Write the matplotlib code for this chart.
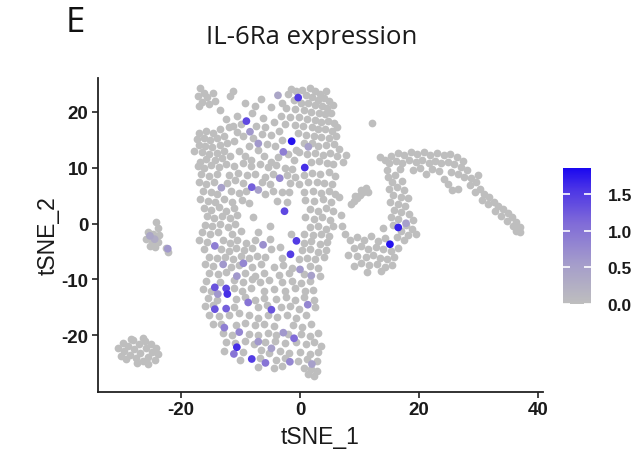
import numpy as np
import matplotlib
matplotlib.use("Agg")
import matplotlib.pyplot as plt
from matplotlib.colors import LinearSegmentedColormap, Normalize

# ---------------- data ----------------
# non-expressing cells (value 0), grouped by region of the tSNE map
main_upper = [
    (-16.8,24.2),(-16.2,23.4),(-17.1,22.8),(-15.6,22.6),(-14.6,23.3),(-16.4,21.8),(-15.2,21.4),(-16.9,21.0),(-14.3,21.9),
    (-11.3,23.6),(-11.8,22.7),(-9.3,21.6),(-6.5,22.3),(-4.8,20.8),(-8.0,19.8),(-10.5,19.3),(-12.5,18.6),(-6.2,18.9),
    (-1.5,24.0),(-0.6,23.7),(0.4,23.9),(1.6,24.2),(2.5,23.6),(3.4,23.1),(4.3,23.6),(1.0,22.9),(2.0,22.6),(3.0,22.1),
    (4.0,22.4),(4.9,21.9),(-1.0,22.1),(0.2,21.6),(1.4,21.5),(2.6,21.1),(3.7,21.0),(4.6,20.6),(5.5,21.2),(-2.3,20.6),
    (-0.9,20.4),(0.6,20.3),(1.9,20.0),(3.2,19.8),(4.2,19.5),(5.2,19.7),(-3.2,19.3),(-1.6,19.0),(-0.2,19.1),(1.2,18.7),
    (2.6,18.5),(3.6,18.1),(4.7,18.4),(5.7,18.0),(-2.5,17.8),(-0.9,17.6),(0.5,17.4),(2.0,17.2),(3.1,16.8),(4.2,16.9),
    (5.3,16.5),(6.2,17.2),(-2.0,23.2),(-7.6,21.0),(-13.4,20.2),(-3.0,21.6),
    (-16.9,16.2),(-15.8,16.6),(-14.6,16.1),(-13.5,16.8),(-17.3,15.1),(-16.2,15.3),(-15.1,14.9),(-13.9,15.2),(-12.8,15.6),
    (-17.0,14.0),(-15.9,13.8),(-14.7,13.6),(-13.5,14.0),(-12.3,14.3),(-16.4,12.8),(-15.2,12.5),(-14.0,12.6),(-12.8,12.9),
    (-15.7,11.6),(-14.3,11.4),(-13.1,11.7),(-11.8,12.0),(-16.8,11.0),(-17.8,13.0),(-12.0,17.2),
    (-11.2,17.4),(-9.9,17.8),(-7.4,17.5),(-5.8,17.3),(-4.4,18.2),(-10.6,16.3),(-9.5,15.6),(-7.9,15.2),(-6.4,16.0),
    (-4.9,15.9),(-3.6,16.5),(-11.0,14.8),(-8.6,13.8),(-7.0,13.1),(-5.6,14.2),(-4.2,13.9),(-3.0,14.9),(-10.2,13.0),
    (-9.3,12.1),(-6.0,12.1),(-3.7,11.9),(-2.0,12.4),(-0.6,13.2),(-8.2,11.4),(-4.8,11.0),
    (-0.3,16.2),(1.0,15.9),(2.4,15.6),(3.6,15.5),(4.8,15.3),(6.0,15.6),(0.6,14.3),(2.0,14.4),(3.1,13.9),(4.4,14.0),
    (5.7,14.2),(6.5,13.4),(-0.1,12.7),(1.2,12.5),(2.6,12.6),(3.9,12.3),(5.1,12.6),(6.2,12.0),(-1.0,11.3),(1.8,11.0),
    (3.2,11.2),(4.5,10.9),(5.6,10.6),(7.2,11.0),(7.7,12.2),(12.1,18.0),
]
main_middle = [
    (-17.2,10.2),(-16.1,9.9),(-14.9,10.4),(-13.6,10.1),(-12.4,10.6),(-11.0,10.3),(-9.6,10.8),(-8.3,10.2),(-6.8,10.6),
    (-5.4,10.1),(-4.1,10.4),(-2.6,10.0),(-1.3,9.7),
    (-16.6,8.8),(-15.3,8.5),(-14.0,8.9),(-12.0,8.7),(-10.4,9.0),(-8.9,8.6),(-7.5,8.9),(-5.9,8.4),(-4.6,8.8),(-2.2,8.6),
    (-0.9,8.3),(0.6,8.7),(2.0,9.0),(3.4,8.8),(4.8,9.2),(5.9,8.5),
    (-17.0,7.4),(-15.8,7.1),(-14.5,7.5),(-12.2,7.3),(-10.9,7.7),(-9.6,7.2),(-6.4,7.4),(-5.1,7.0),(-1.6,7.2),(-0.1,7.0),
    (1.3,7.4),(2.8,7.5),(4.1,7.2),(5.4,7.0),
    (-16.3,5.9),(-15.0,5.6),(-13.9,5.2),(-11.6,5.9),(-10.3,5.5),(-9.0,5.8),(-5.8,5.3),(-4.5,5.9),(-3.0,5.6),(-1.8,5.7),
    (0.7,5.6),(2.1,5.9),(3.5,5.5),(4.8,5.8),(5.9,5.2),(6.5,4.8),
    (-16.8,4.4),(-15.4,4.1),(-14.2,3.9),(-12.8,4.4),(-11.5,3.8),(-9.8,4.2),(-8.6,3.6),(-3.8,4.0),(-2.2,3.9),(0.9,4.2),
    (2.4,4.0),(3.8,4.3),(5.2,3.9),
    (-16.2,2.8),(-14.9,2.5),(-13.6,2.9),(-12.4,2.3),(-11.1,2.7),(-7.9,1.1),(1.6,2.6),(3.0,2.2),(4.4,2.7),(5.6,2.3),
    (-15.6,1.3),(-14.4,1.0),(-13.1,1.4),(-11.8,0.9),(-10.5,1.5),(-5.0,-0.5),(0.9,1.1),(2.3,0.8),(3.7,1.2),(5.0,0.7),(6.8,1.5),
    (-16.0,-0.2),(-14.8,-0.5),(-13.4,-0.1),(-12.1,-0.6),(-10.9,0.0),(1.6,-0.6),(3.0,-0.4),(4.3,-0.9),(5.6,-0.5),
    (-16.5,-1.6),(-15.1,-1.9),(-13.8,-1.5),(-11.4,-1.8),(-9.9,-1.3),(-7.0,-1.6),(-1.5,-1.8),(0.6,-1.9),(2.1,-2.0),
    (3.6,-1.8),(4.9,-2.2),
    (-16.9,-3.0),(-15.6,-3.3),(-13.0,-3.0),(-11.8,-3.5),(-10.5,-2.9),(-9.0,-3.4),(-7.6,-3.0),(-5.1,-2.8),(0.6,-3.4),
    (1.9,-3.2),(3.3,-3.6),(4.6,-3.3),
    (-16.1,-4.6),(-13.3,-4.5),(-12.0,-4.9),(-10.7,-4.4),(-9.4,-4.8),(-8.0,-4.4),(-4.8,-4.6),(-3.3,-4.2),(0.3,-4.8),
    (1.7,-4.6),(3.0,-5.0),(4.3,-4.7),
    (-15.3,-5.9),(-14.0,-6.2),(-12.6,-6.0),(-11.2,-6.3),(-9.9,-5.8),(-8.6,-6.2),(-7.2,-5.8),(-5.8,-6.0),(-3.1,-6.2),
    (-0.2,-6.4),(1.2,-6.1),(2.6,-6.4),(4.0,-6.0),
    (-16.0,-7.3),(-14.6,-7.6),(-11.6,-7.8),(-10.3,-7.4),(-8.0,-7.8),(-6.5,-7.3),(-4.4,-7.8),(-2.8,-7.4),(-1.3,-7.9),
    (1.6,-7.6),(3.0,-8.0),
    (-15.2,-8.8),(-13.8,-9.1),(-12.4,-8.7),(-9.2,-8.9),(-7.6,-9.3),(-6.1,-8.8),(-3.6,-9.2),(-1.9,-8.8),(0.7,-9.0),(3.4,-9.4),
]
main_lower = [
    (-15.8,-10.2),(-13.4,-10.4),(-11.0,-10.1),(-9.6,-10.5),(-8.1,-10.0),(-6.7,-10.4),(-5.2,-10.1),(-3.0,-10.5),
    (-1.4,-10.2),(0.2,-10.6),(1.7,-10.3),
    (-16.3,-11.7),(-15.0,-12.0),(-11.1,-11.6),(-9.7,-12.0),(-8.3,-11.6),(-6.0,-12.1),(-4.4,-11.7),(-2.5,-12.0),
    (-0.9,-11.6),(0.8,-12.1),(2.2,-11.8),
    (-15.5,-13.3),(-14.0,-13.6),(-10.8,-13.4),(-9.3,-13.2),(-7.6,-13.6),(-6.1,-13.3),(-4.0,-13.5),(-2.4,-13.1),
    (-0.8,-13.6),(0.6,-13.2),(2.4,-13.6),
    (-16.0,-14.8),(-14.6,-14.5),(-11.0,-14.9),(-10.2,-16.0),(-7.0,-15.0),(-5.6,-14.6),(-3.2,-15.0),(-1.6,-14.7),
    (-0.1,-15.2),(2.6,-15.0),
    (-15.2,-16.4),(-13.6,-16.6),(-12.0,-16.4),(-8.6,-16.4),(-7.0,-16.8),(-5.4,-16.3),(-3.8,-16.7),(-2.2,-16.4),
    (-0.6,-16.8),(1.0,-16.3),
    (-14.6,-17.9),(-13.2,-18.0),(-10.8,-18.2),(-9.2,-17.8),(-7.6,-18.2),(-6.0,-17.9),(-4.4,-18.3),(-1.2,-18.1),
    (0.4,-18.4),(1.9,-18.0),
    (-13.0,-19.6),(-11.5,-19.9),(-8.6,-19.7),(-7.0,-19.9),(-5.4,-19.5),(-4.0,-20.0),(-2.0,-19.8),(0.2,-19.7),
    (1.6,-20.1),(3.0,-19.6),
    (-12.4,-21.1),(-10.9,-21.4),(-9.2,-21.0),(-7.8,-21.5),(-5.8,-21.2),(-4.2,-21.0),(-2.6,-21.4),(-0.6,-21.2),
    (1.0,-21.6),(2.4,-21.1),(3.6,-21.8),
    (-12.8,-22.7),(-9.6,-22.9),(-6.6,-22.6),(-5.2,-23.1),(-3.4,-22.8),(-1.9,-23.2),(0.0,-22.9),(1.6,-23.3),(3.0,-22.9),
    (-10.0,-24.3),(-6.8,-24.1),(-4.0,-24.4),(-2.6,-24.0),(-0.3,-24.6),(1.2,-24.2),(2.8,-24.6),
    (-7.0,-25.6),(-4.4,-25.8),(-3.0,-25.4),(0.6,-25.8),(1.8,-26.0),
    (1.4,-26.9),(2.4,-27.3),(2.8,-26.4),
]
left_small = [
    (-24.2,0.3),(-23.8,-0.8),(-25.6,-1.6),(-24.6,-1.9),(-23.6,-2.1),(-25.9,-2.8),(-24.8,-3.1),(-23.8,-3.3),
    (-25.2,-4.0),(-24.3,-4.2),(-22.5,-4.4),(-22.1,-5.0),
]
left_bottom = [
    (-30.6,-22.2),(-29.8,-21.3),(-29.6,-22.8),(-28.8,-21.8),(-28.6,-23.5),(-28.0,-20.8),(-27.8,-22.4),(-27.6,-24.0),
    (-27.0,-21.5),(-26.8,-23.1),(-26.4,-24.6),(-26.0,-20.9),(-25.8,-22.3),(-25.6,-23.8),(-25.0,-21.6),(-24.8,-23.0),
    (-24.2,-22.2),(-23.8,-23.4),(-29.2,-24.2),(-30.0,-23.6),(-27.3,-25.0),(-25.6,-25.1),(-28.4,-20.6),(-26.4,-20.4),
    (-24.4,-24.3),
]
right_arc = [
    (14.2,11.3),(15.3,12.0),(16.4,12.6),(17.5,12.2),(18.6,12.8),(19.7,12.4),(20.8,12.7),(21.9,12.3),(23.0,12.6),
    (24.1,12.2),(25.2,12.4),(26.3,11.8),(27.3,11.2),
    (15.0,10.8),(16.1,11.2),(17.2,10.9),(18.3,11.4),(19.4,11.0),(20.5,11.3),(21.6,10.9),(22.6,11.2),(23.7,10.8),
    (24.8,11.0),(25.9,10.6),(27.0,10.1),(28.0,9.6),
    (14.6,9.6),(16.8,9.8),(19.0,9.6),(20.2,10.0),(22.2,9.8),(23.4,9.4),(25.4,9.2),(26.5,8.9),(27.6,8.4),(28.7,8.2),
    (13.4,11.9),(21.2,8.9),
    (29.5,7.4),(28.6,6.8),(30.2,6.2),(29.3,5.6),(30.9,5.2),(31.8,4.7),(30.6,4.2),(32.5,3.9),(31.5,3.4),(33.3,3.1),
    (34.1,2.6),(32.7,2.2),(34.9,1.8),(33.8,1.4),(35.6,1.1),(34.8,0.5),(36.3,0.3),(35.7,-0.4),(36.9,-0.6),(36.2,-1.3),
    (37.0,-1.6),(29.9,8.6),
    (24.2,7.9),(25.6,6.0),(26.6,6.1),(24.8,7.0),
    (14.8,8.3),(16.0,8.7),(15.4,7.4),(17.1,7.6),(14.9,6.2),(16.3,6.5),(17.5,6.0),(15.6,5.1),(16.9,4.8),(18.2,4.5),
    (15.1,3.8),(16.4,3.5),(17.7,3.2),(15.8,2.4),(17.0,2.0),(18.3,1.7),(19.0,0.6),(15.2,1.2),(16.4,0.8),(17.8,-0.3),
    (18.8,-0.9),(15.6,-0.2),(17.0,-1.4),(18.2,-2.0),(16.3,-2.4),(17.4,-3.0),(19.4,-1.8),(13.9,-0.8),
    (7.6,-1.8),(8.4,-3.0),(9.6,-2.4),(10.8,-2.9),(12.0,-2.2),(13.1,-3.1),(14.2,-2.6),(9.0,-4.3),(10.3,-4.1),
    (11.5,-4.5),(12.7,-4.2),(13.9,-4.6),(15.2,-4.9),(16.4,-4.4),(8.0,-5.6),(9.5,-5.8),(11.0,-6.0),(12.2,-5.6),
    (13.4,-6.1),(14.6,-6.3),(15.8,-5.9),(10.2,-7.1),(11.6,-7.4),(12.9,-7.2),(14.2,-7.8),(15.4,-7.4),(9.0,-7.6),
    (13.6,-8.5),(11.2,-8.6),(7.0,-0.5),
    (11.1,6.3),(10.6,5.7),(10.1,5.1),(9.6,4.6),(9.1,4.0),(8.6,3.4),(10.3,6.0),(9.3,4.9),(11.4,5.6),
]
# expressing cells: (tSNE_1, tSNE_2, IL-6Ra expression)
expressed = [
    (-9.0,18.3,1.4),(-8.4,16.4,0.6),(-0.3,22.5,1.5),(-1.4,14.7,1.8),(-2.8,12.8,0.9),(0.8,10.0,1.6),(1.4,13.7,0.5),
    (-7.0,14.3,0.6),(-3.7,22.9,0.4),(-3.4,8.1,0.8),(-13.2,6.4,0.5),(-8.1,6.5,1.2),(-7.0,6.0,0.5),(-2.6,2.2,1.4),
    (-0.6,-3.1,1.5),(-1.6,-5.5,1.5),(-14.3,-4.0,0.9),(-6.2,-3.8,0.7),(-12.9,-7.3,0.6),(-9.5,-7.1,0.8),(0.0,-8.2,0.6),
    (-14.3,-11.4,1.3),(-12.4,-11.6,1.4),(-12.2,-12.6,1.6),(-13.8,-12.6,0.6),(-14.3,-15.3,1.3),(-12.4,-15.2,1.2),
    (-12.7,-18.6,0.9),(-8.7,-14.1,1.0),(-4.8,-15.4,1.3),(1.3,-14.5,0.8),(-10.6,-22.1,1.6),(-11.1,-23.3,1.0),
    (-8.1,-24.2,1.5),(-5.8,-24.9,1.0),(-1.0,-20.5,1.1),(-1.7,-24.7,0.8),(-10.6,-9.4,0.6),(-7.0,-21.1,0.6),
    (-2.8,-19.5,0.6),(-10.2,-19.4,0.8),(-4.8,-22.3,0.5),(2.0,-25.1,0.5),(1.9,-9.3,0.5),
    (-25.2,-2.2,0.4),(-24.4,-2.8,0.3),(-22.2,-4.5,0.6),
    (16.5,-0.7,1.7),(15.1,-3.7,1.8),(17.8,0.05,0.5),
]
cbar_ticks = [0.0, 0.5, 1.0, 1.5]
value_max = 1.86

# ---------------- figure ----------------
W, H = 639, 452
fig = plt.figure(figsize=(W / 100, H / 100), dpi=100)
ax = fig.add_axes([97.5 / W, 1 - 393 / H, (543 - 97.5) / W, (393 - 79) / H])

cmap = LinearSegmentedColormap.from_list(
    "grey_blue",
    [(0.0, "#BEBEBE"), (0.3, "#A49CCB"), (0.6, "#7F6AD8"), (0.85, "#4A33E6"), (1.0, "#1A08F0")])
norm = Normalize(vmin=0, vmax=value_max)

grey = np.array(main_upper + main_middle + main_lower + left_small + left_bottom + right_arc)
ax.scatter(grey[:, 0], grey[:, 1], s=31, c=[cmap(0.0)], linewidths=0, zorder=2)

ex = np.array(sorted(expressed, key=lambda r: r[2]))
sc = ax.scatter(ex[:, 0], ex[:, 1], s=31, c=ex[:, 2], cmap=cmap, norm=norm, linewidths=0, zorder=3)

ax.set_xlim(-34, 40.8)
ax.set_ylim(-30.1, 26)
ax.set_xticks([-20, 0, 20, 40])
ax.set_yticks([-20, -10, 0, 10, 20])
ax.set_xticklabels(["-20", "0", "20", "40"])
ax.set_yticklabels(["-20", "-10", "0", "10", "20"])
for s in ["top", "right"]:
    ax.spines[s].set_visible(False)
for s in ["left", "bottom"]:
    ax.spines[s].set_linewidth(1.3)
    ax.spines[s].set_color("#222222")
ax.tick_params(length=4, width=1.2, color="#222222", pad=2.5)
for lab in ax.get_xticklabels() + ax.get_yticklabels():
    lab.set_fontfamily("Liberation Sans")
    lab.set_fontweight("bold")
    lab.set_fontsize(13.5)
    lab.set_color("#1a1a1a")

ax.set_xlabel("tSNE_1", fontsize=16.5, fontfamily="Liberation Sans", color="#1a1a1a", labelpad=5)
ax.set_ylabel("tSNE_2", fontsize=16.5, fontfamily="Liberation Sans", color="#1a1a1a", labelpad=1)

# colour bar
cax = fig.add_axes([563 / W, 1 - 305 / H, 28 / W, 136 / H])
cb = fig.colorbar(sc, cax=cax, ticks=cbar_ticks)
cb.outline.set_visible(False)
cax.set_ylim(0, value_max)
cax.tick_params(axis="y", direction="in", length=5, width=1.2, color="white",
                left=True, right=True, labelleft=False, labelright=True, pad=12)
cax.set_yticklabels(["0.0", "0.5", "1.0", "1.5"])
for lab in cax.get_yticklabels():
    lab.set_fontfamily("Liberation Sans")
    lab.set_fontweight("bold")
    lab.set_fontsize(12.5)
    lab.set_color("#1a1a1a")

fig.text(312 / W, 1 - 37 / H, "IL-6Ra expression", ha="center", va="center",
         fontsize=18.5, fontfamily="Open Sans", color="#1a1a1a")
fig.text(66 / W, 1 - 23 / H, "E", ha="left", va="center",
         fontsize=25, fontfamily="Open Sans", color="#111111")

fig.savefig("out.png", dpi=100)
